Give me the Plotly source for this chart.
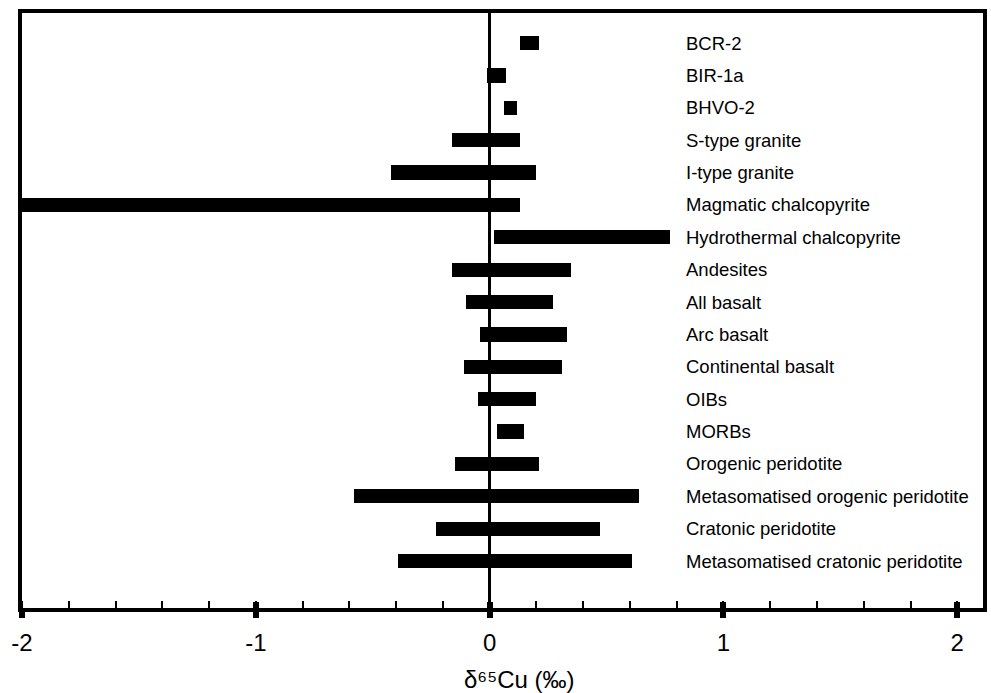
import plotly.graph_objects as go

# Copper isotope ranges (δ65Cu, ‰) for each reservoir, top to bottom
categories = [
    "BCR-2", "BIR-1a", "BHVO-2", "S-type granite", "I-type granite",
    "Magmatic chalcopyrite", "Hydrothermal chalcopyrite", "Andesites",
    "All basalt", "Arc basalt", "Continental basalt", "OIBs", "MORBs",
    "Orogenic peridotite", "Metasomatised orogenic peridotite",
    "Cratonic peridotite", "Metasomatised cratonic peridotite",
]
range_low = [0.13, -0.01, 0.06, -0.16, -0.42, -2.00, 0.02, -0.16,
             -0.10, -0.04, -0.11, -0.05, 0.03, -0.15, -0.58, -0.23, -0.39]
range_high = [0.21, 0.07, 0.115, 0.13, 0.20, 0.13, 0.77, 0.35,
              0.27, 0.33, 0.31, 0.20, 0.145, 0.21, 0.64, 0.47, 0.61]

tick_values = [-2, -1, 0, 1, 2]
tick_labels = ["-2", "-1", "0", "1", "2"]

LABEL_X = 0.83
FONT = "Liberation Sans, Arial, sans-serif"

fig = go.Figure()
fig.add_trace(go.Bar(
    y=categories,
    base=range_low,
    x=[h - l for l, h in zip(range_low, range_high)],
    orientation="h",
    width=0.44,
    marker=dict(color="black", line=dict(width=0)),
    showlegend=False,
    hoverinfo="skip",
))

# empty trace so the overlay axis (inner half of the major ticks) is drawn
fig.add_trace(go.Scatter(x=[None], y=[None], xaxis="x2", yaxis="y",
                         mode="markers", showlegend=False, hoverinfo="skip"))

for name in categories:
    fig.add_annotation(x=LABEL_X, y=name, xref="x", yref="y", text=name,
                       showarrow=False, xanchor="left", yanchor="middle",
                       font=dict(family=FONT, size=18.5, color="black"))

fig.add_annotation(x=0.518, y=-0.121, xref="paper", yref="paper",
                   text="δ⁶⁵Cu (‰)", showarrow=False,
                   xanchor="center", yanchor="middle",
                   font=dict(family=FONT, size=24, color="black"))

fig.update_layout(
    width=991, height=693,
    margin=dict(l=22, r=4, t=13, b=85),
    plot_bgcolor="white", paper_bgcolor="white",
    bargap=0,
    xaxis=dict(
        range=[-2, 2.11], tickvals=tick_values, ticktext=tick_labels,
        ticks="outside", ticklen=6, tickwidth=6, tickcolor="black",
        ticklabelstandoff=4,
        showline=True, linewidth=4, linecolor="black", mirror=True,
        showgrid=False, zeroline=True, zerolinecolor="black",
        zerolinewidth=2.5,
        minor=dict(ticks="inside", ticklen=7, tickwidth=2,
                   tickcolor="black", dtick=0.2, tick0=0, showgrid=False),
        tickfont=dict(family=FONT, size=24, color="black"),
    ),
    xaxis2=dict(
        overlaying="x", matches="x", anchor="y", side="bottom",
        tickvals=tick_values, ticks="inside", ticklen=6, tickwidth=6,
        tickcolor="black", showticklabels=False, showline=False,
        showgrid=False, zeroline=False,
    ),
    yaxis=dict(
        categoryorder="array", categoryarray=categories,
        range=[17.45, -0.927],
        showline=True, linewidth=4, linecolor="black", mirror=True,
        showticklabels=False, ticks="", showgrid=False, zeroline=False,
    ),
)

fig.write_html("out.html")
